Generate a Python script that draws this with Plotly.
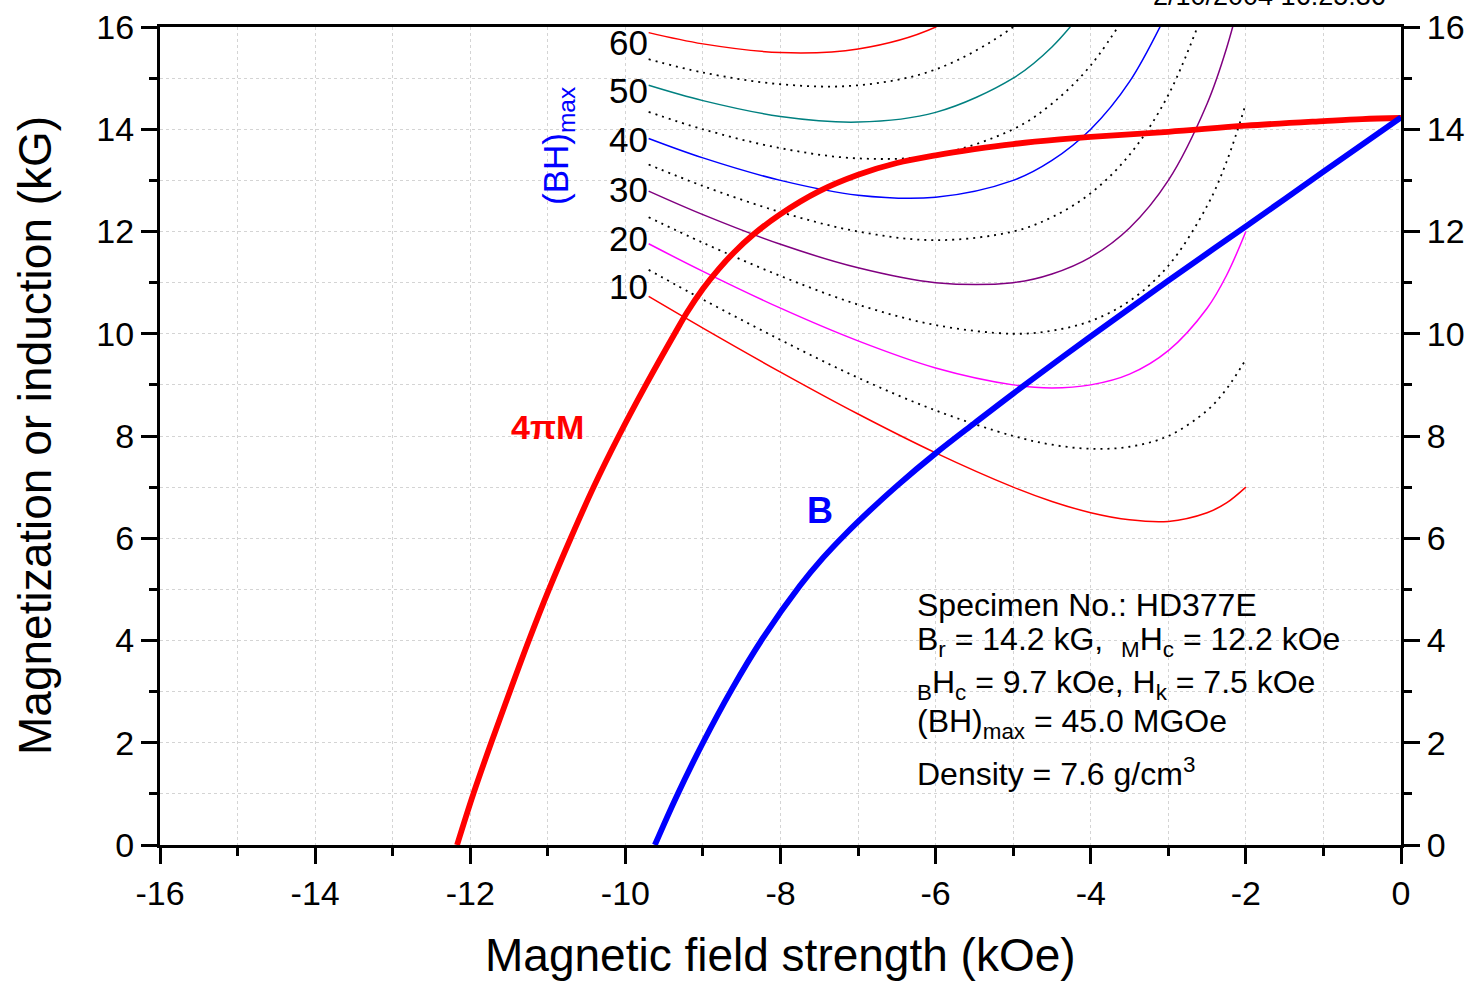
import plotly.graph_objects as go

# ---- main demagnetization curves ----
h_m = [-12.17, -11.96, -11.73, -11.49, -11.245, -10.985, -10.705, -10.41, -10.085, -9.735,
       -9.365, -9.2, -9.0, -8.8, -8.6, -8.35, -8.0, -7.5, -7.0, -6.5, -6.0, -5.5,
       -5.0, -4.4, -4.0, -3.0, -2.0, -1.0, -0.5, 0.0]
m_4pi = [0.0, 1.0, 2.0, 3.0, 4.0, 5.0, 6.0, 7.0, 8.0, 9.0,
         10.0, 10.43, 10.88, 11.26, 11.59, 11.94, 12.34, 12.79, 13.11, 13.34, 13.49, 13.61,
         13.71, 13.8, 13.85, 13.95, 14.07, 14.16, 14.2, 14.22]

h_b = [-9.62, -9.34, -9.0, -8.63, -8.23, -7.75, -7.45, -7.17, -6.85, -6.48, -6.0, -5.5,
       -5.0, -4.0, -3.0, -2.0, -1.0, 0.0]
b_ind = [0.0, 0.95, 2.0, 3.04, 4.04, 5.07, 5.62, 6.07, 6.54, 7.05, 7.66, 8.25,
         8.83, 9.95, 11.04, 12.1, 13.17, 14.23]

# ---- (BH)max iso-energy contours ----
h_iso = [-9.7, -9, -8, -7, -6, -5, -4.5, -4, -3.5, -3, -2.5, -2.25, -2]
bh10 = [10.73, 10.11, 9.25, 8.43, 7.67, 7.00, 6.72, 6.50, 6.36, 6.33, 6.50, 6.69, 7.00]
bh15 = [11.25, 10.67, 9.88, 9.14, 8.50, 8.00, 7.83, 7.75, 7.79, 8.00, 8.50, 8.92, 9.50]
bh20 = [11.76, 11.22, 10.50, 9.86, 9.33, 9.00, 8.94, 9.00, 9.21, 9.67, 10.50, 11.14, 12.00]
bh25 = [12.28, 11.78, 11.13, 10.57, 10.17, 10.00, 10.06, 10.25, 10.64, 11.33, 12.50, 13.36, 14.50]
bh30 = [12.79, 12.33, 11.75, 11.29, 11.00, 11.00, 11.17, 11.50, 12.07, 13.00, 14.50, 15.58, 17.00]
bh35 = [13.31, 12.89, 12.38, 12.00, 11.83, 12.00, 12.28, 12.75, 13.50, 14.67, 16.50]
bh40 = [13.82, 13.44, 13.00, 12.71, 12.67, 13.00, 13.39, 14.00, 14.93, 16.33]
bh45 = [14.34, 14.00, 13.63, 13.43, 13.50, 14.00, 14.50, 15.25, 16.36]
bh50 = [14.86, 14.56, 14.25, 14.14, 14.33, 15.00, 15.61, 16.50]
bh55 = [15.37, 15.11, 14.88, 14.86, 15.17, 16.00, 16.72]
bh60 = [15.89, 15.67, 15.50, 15.57, 16.00, 17.00]

contour_labels = ["10", "20", "30", "40", "50", "60"]
contour_label_y = [10.92, 11.87, 12.83, 13.79, 14.75, 15.69]

x_ticks = list(range(-16, 1, 2))
x_ticktext = [str(v) for v in x_ticks]   # plain hyphen minus, as in the original
y_ticks = list(range(0, 17, 2))

FONT = "Liberation Sans, Arial, sans-serif"

contours = [
    (bh10, dict(color="#FF0000", width=1.5)),
    (bh15, dict(color="black", width=1.8, dash="2px,5px")),
    (bh20, dict(color="#FF00FF", width=1.5)),
    (bh25, dict(color="black", width=1.8, dash="2px,5px")),
    (bh30, dict(color="#800080", width=1.5)),
    (bh35, dict(color="black", width=1.8, dash="2px,5px")),
    (bh40, dict(color="#0000FF", width=1.5)),
    (bh45, dict(color="black", width=1.8, dash="2px,5px")),
    (bh50, dict(color="#008080", width=1.5)),
    (bh55, dict(color="black", width=1.8, dash="2px,5px")),
    (bh60, dict(color="#FF0000", width=1.5)),
]

fig = go.Figure()
for vals, line in contours:
    fig.add_trace(go.Scatter(x=h_iso[:len(vals)], y=vals, mode="lines",
                             line=dict(shape="spline", **line),
                             showlegend=False, hoverinfo="skip"))

fig.add_trace(go.Scatter(x=h_m, y=m_4pi, mode="lines",
                         line=dict(color="#FF0000", width=5.8, shape="spline"),
                         showlegend=False))
fig.add_trace(go.Scatter(x=h_b, y=b_ind, mode="lines",
                         line=dict(color="#0000FF", width=5.8, shape="spline"),
                         showlegend=False))
# empty trace so the right-hand axis is created
fig.add_trace(go.Scatter(x=[], y=[], yaxis="y2", showlegend=False, hoverinfo="skip"))

grid = dict(gridcolor="#d4d4d4", griddash="dot", gridwidth=1)
axis_common = dict(showline=True, linecolor="black", linewidth=3,
                   ticks="outside", ticklen=16, tickwidth=3, tickcolor="black",
                   tickfont=dict(family=FONT, size=34, color="black"),
                   zeroline=False, showgrid=True, **grid)

fig.update_layout(
    width=1474, height=981,
    margin=dict(l=160, r=73, t=27, b=136, autoexpand=False),
    plot_bgcolor="white", paper_bgcolor="white",
    font=dict(family=FONT, color="black"),
    xaxis=dict(range=[-16, 0], tickvals=x_ticks, ticktext=x_ticktext, mirror=True,
               minor=dict(dtick=1, ticks="outside", ticklen=8, tickwidth=3,
                          tickcolor="black", showgrid=True, **grid),
               **axis_common),
    yaxis=dict(range=[0, 16], tickvals=y_ticks,
               minor=dict(dtick=1, ticks="outside", ticklen=8, tickwidth=3,
                          tickcolor="black", showgrid=True, **grid),
               **axis_common),
    yaxis2=dict(range=[0, 16], tickvals=y_ticks, overlaying="y", side="right",
                showline=True, linecolor="black", linewidth=3,
                ticks="outside", ticklen=16, tickwidth=3, tickcolor="black",
                tickfont=dict(family=FONT, size=34, color="black"),
                zeroline=False, showgrid=False,
                minor=dict(dtick=1, ticks="outside", ticklen=8, tickwidth=3,
                           tickcolor="black")),
)

ann = []
# axis titles
ann.append(dict(text="Magnetic field strength (kOe)", xref="paper", yref="paper",
                x=0.5, y=0, yshift=-110, xanchor="center", yanchor="middle",
                showarrow=False, font=dict(size=46)))
ann.append(dict(text="Magnetization or induction (kG)", xref="paper", yref="paper",
                x=0, xshift=-125, y=0.5, xanchor="center", yanchor="middle",
                textangle=-90, showarrow=False, font=dict(size=46)))
# contour value labels
for lab, yv in zip(contour_labels, contour_label_y):
    ann.append(dict(text=lab, x=-9.68, y=yv, xref="x", yref="y",
                    xanchor="right", yanchor="middle", showarrow=False,
                    font=dict(size=35)))
ann.append(dict(text="(BH)<sub>max</sub>", x=-10.87, y=13.67, xref="x", yref="y",
                textangle=-90, showarrow=False, xanchor="center", yanchor="middle",
                font=dict(size=35, color="#0000FF")))
ann.append(dict(text="<b>4πM</b>", x=-11.01, y=8.18, xref="x", yref="y",
                showarrow=False, font=dict(size=34, color="#FF0000")))
ann.append(dict(text="<b>B</b>", x=-7.49, y=6.55, xref="x", yref="y",
                showarrow=False, font=dict(size=36, color="#0000FF")))
# specimen info
info_lines = [
    ("Specimen No.: HD377E", 4.7),
    ("B<sub>r</sub> = 14.2 kG,  <sub>M</sub>H<sub>c</sub> = 12.2 kOe", 3.98),
    ("<sub>B</sub>H<sub>c</sub> = 9.7 kOe, H<sub>k</sub> = 7.5 kOe", 3.13),
    ("(BH)<sub>max</sub> = 45.0 MGOe", 2.38),
    ("Density = 7.6 g/cm<sup>3</sup>", 1.42),
]
for txt, yv in info_lines:
    ann.append(dict(text=txt, x=-6.26, y=yv, xref="x", yref="y",
                    xanchor="left", yanchor="middle", showarrow=False,
                    font=dict(size=32)))
# timestamp (partly cut off at the top)
ann.append(dict(text="2/10/2004 16:25:36", xref="paper", yref="paper",
                x=1, xshift=-13, y=1, yshift=31, xanchor="right", yanchor="middle",
                showarrow=False, font=dict(size=27)))

fig.update_layout(annotations=ann)

fig.write_html("out.html", config={"displayModeBar": False},
               post_script="document.body.style.margin='0';")
